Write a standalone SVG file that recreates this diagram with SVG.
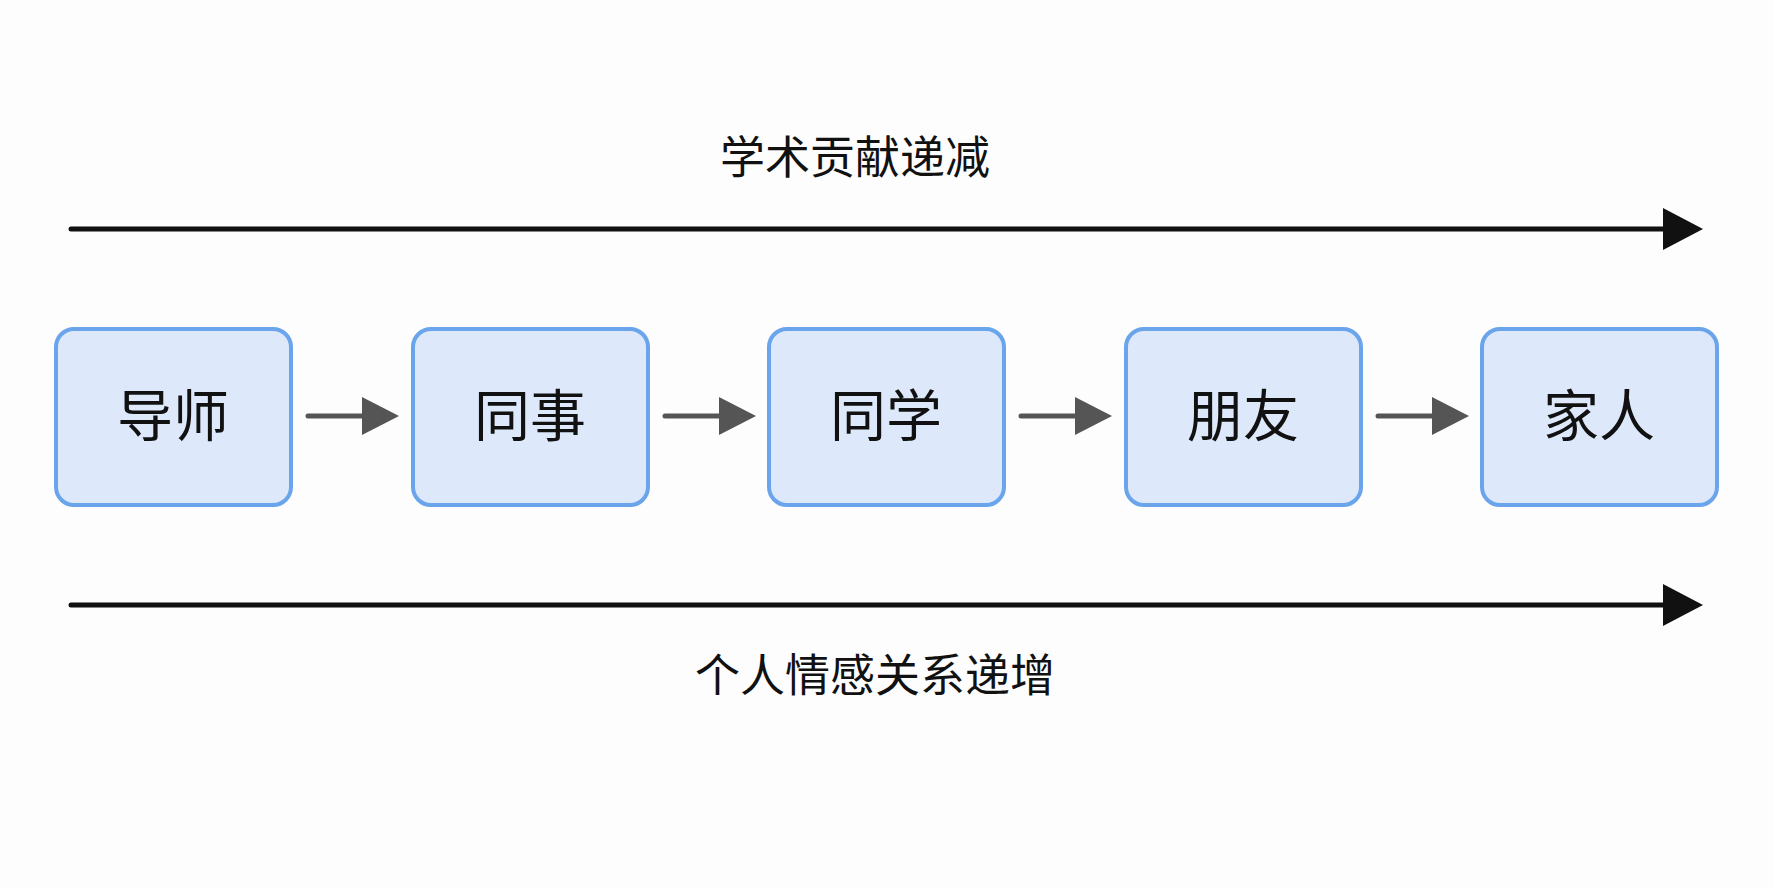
<svg xmlns="http://www.w3.org/2000/svg" width="1774" height="887" viewBox="0 0 1774 887">
<style>
.box{fill:#dde9fb;stroke:#6aa5ec;stroke-width:4}
.t{font-family:"Noto Sans CJK SC","Noto Sans",sans-serif;fill:#111;text-anchor:middle}
.n{font-size:56px}
.h{font-size:45px}
.c{stroke:#555;stroke-width:5;stroke-linecap:round}
.m{stroke:#111;stroke-width:5;stroke-linecap:round}
</style>
<defs>
<marker id="ag" markerWidth="10" markerHeight="10" refX="9" refY="5" orient="auto" markerUnits="userSpaceOnUse" viewBox="0 0 10 10"><path d="M0,0 L10,5 L0,10 z" fill="#555"/></marker>
</defs>
<rect width="1774" height="887" fill="#fdfdfd"/>
<g id="connectors">
<line class="m" x1="71" y1="229" x2="1665" y2="229"/>
<polygon points="1663,208 1703,229 1663,250" fill="#111"/>
<line class="m" x1="71" y1="605" x2="1665" y2="605"/>
<polygon points="1663,584 1703,605 1663,626" fill="#111"/>
<g fill="#555">
<line class="c" x1="308" y1="416" x2="365" y2="416"/><polygon points="362,397 399,416 362,435"/>
<line class="c" x1="665" y1="416" x2="722" y2="416"/><polygon points="719,397 756,416 719,435"/>
<line class="c" x1="1021" y1="416" x2="1078" y2="416"/><polygon points="1075,397 1112,416 1075,435"/>
<line class="c" x1="1378" y1="416" x2="1435" y2="416"/><polygon points="1432,397 1469,416 1432,435"/>
</g>
</g>
<g id="n1"><rect class="box" x="56" y="329" width="235" height="176" rx="18"/><text class="t n" x="173" y="436">导师</text></g>
<g id="n2"><rect class="box" x="413" y="329" width="235" height="176" rx="18"/><text class="t n" x="530" y="436">同事</text></g>
<g id="n3"><rect class="box" x="769" y="329" width="235" height="176" rx="18"/><text class="t n" x="886" y="436">同学</text></g>
<g id="n4"><rect class="box" x="1126" y="329" width="235" height="176" rx="18"/><text class="t n" x="1243" y="436">朋友</text></g>
<g id="n5"><rect class="box" x="1482" y="329" width="235" height="176" rx="18"/><text class="t n" x="1599" y="436">家人</text></g>
<text class="t h" x="855" y="174">学术贡献递减</text>
<text class="t h" x="875" y="692">个人情感关系递增</text>
</svg>
